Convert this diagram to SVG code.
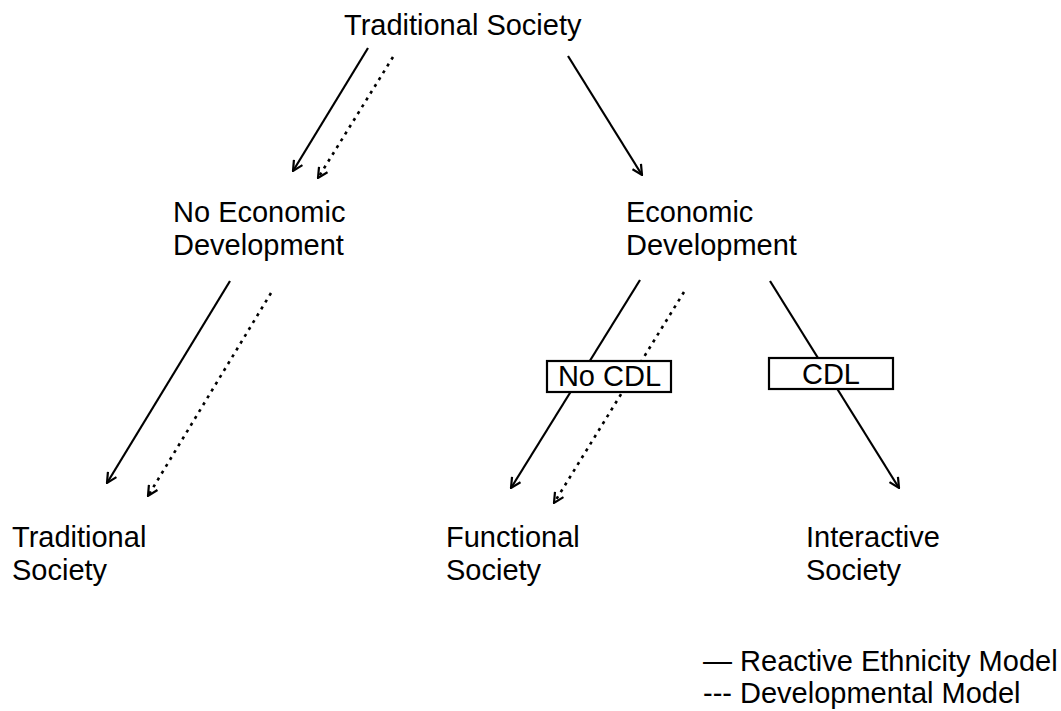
<svg xmlns="http://www.w3.org/2000/svg" width="1061" height="711" viewBox="0 0 1061 711">
  <style>
    text { font-family: "Liberation Sans", Arial, sans-serif; font-size: 29px; fill: #000; }
    .solid { stroke: #000; stroke-width: 2.2; fill: none; marker-end: url(#arrow); }
    .dotted { stroke: #000; stroke-width: 2.6; fill: none; stroke-dasharray: 3 5; marker-end: url(#arrow); }
    .tag rect { fill: #fff; stroke: #000; stroke-width: 2.2; }
  </style>
  <defs>
    <marker id="arrow" viewBox="0 0 12 12" refX="11" refY="6" markerWidth="12" markerHeight="12" markerUnits="userSpaceOnUse" orient="auto">
      <path d="M1,1 L11,6 L1,11" fill="none" stroke="#000" stroke-width="2.2"/>
    </marker>
  </defs>
  <rect width="1061" height="711" fill="#fff"/>

  <!-- connectors -->
  <g id="connectors">
    <line class="solid" x1="368" y1="48" x2="293" y2="171"/>
    <line class="dotted" x1="393" y1="57" x2="318" y2="178"/>
    <line class="solid" x1="568" y1="56" x2="642" y2="175"/>
    <line class="solid" x1="230" y1="281" x2="107" y2="483"/>
    <line class="dotted" x1="271" y1="293" x2="148" y2="496"/>
    <line class="solid" x1="640" y1="280" x2="511" y2="488"/>
    <line class="dotted" x1="684" y1="292" x2="554" y2="503"/>
    <line class="solid" x1="770" y1="281" x2="899" y2="488"/>
  </g>

  <!-- condition labels on the branches -->
  <g id="label-no-cdl" class="tag">
    <rect x="547" y="361" width="124" height="31"/>
    <text x="609.5" y="386" text-anchor="middle">No CDL</text>
  </g>
  <g id="label-cdl" class="tag">
    <rect x="769" y="358" width="124" height="31"/>
    <text x="831" y="384" text-anchor="middle">CDL</text>
  </g>

  <!-- nodes -->
  <g id="node-traditional-top">
    <text x="344" y="35">Traditional Society</text>
  </g>
  <g id="node-no-econ-dev">
    <text x="173" y="222">No Economic</text>
    <text x="173" y="255">Development</text>
  </g>
  <g id="node-econ-dev">
    <text x="626" y="222">Economic</text>
    <text x="626" y="255">Development</text>
  </g>
  <g id="node-traditional-bottom">
    <text x="12" y="547">Traditional</text>
    <text x="12" y="580">Society</text>
  </g>
  <g id="node-functional">
    <text x="446" y="547">Functional</text>
    <text x="446" y="580">Society</text>
  </g>
  <g id="node-interactive">
    <text x="806" y="547">Interactive</text>
    <text x="806" y="580">Society</text>
  </g>

  <!-- legend -->
  <g id="legend">
    <text x="703" y="671">— Reactive Ethnicity Model</text>
    <text x="703" y="703">--- Developmental Model</text>
  </g>
</svg>
